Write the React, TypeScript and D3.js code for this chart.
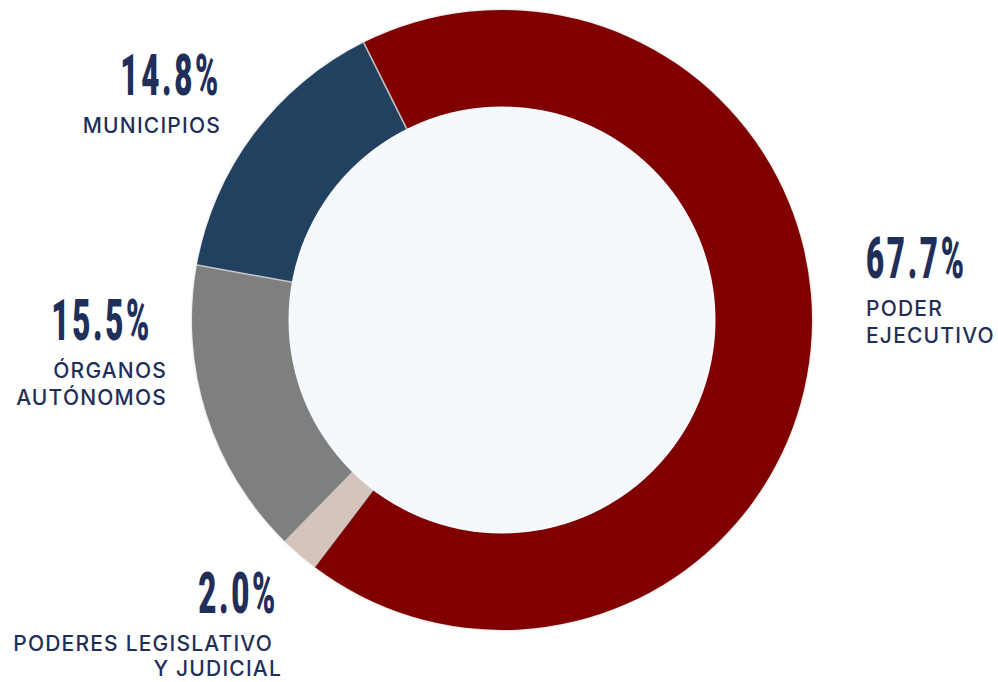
import * as d3 from "d3";

const categories = ["PODER EJECUTIVO", "PODERES LEGISLATIVO Y JUDICIAL", "ÓRGANOS AUTÓNOMOS", "MUNICIPIOS"];
const shares = [67.7, 2.0, 15.5, 14.8];
const labelLines = [["PODER", "EJECUTIVO"], ["PODERES LEGISLATIVO", "Y JUDICIAL"], ["ÓRGANOS", "AUTÓNOMOS"], ["MUNICIPIOS"]];
const colors = ["#800000", "#d5c4bb", "#7f7f7f", "#243f5f"];

// label placement (anchor x, baseline y of the percent, alignment)
const labelLayout = [
  {x: 866, y: 278, anchor: "start", lx: 866, gap: 27},
  {x: 278, y: 613, anchor: "end", lx: 273, lx2: 282, gap: 25},
  {x: 152, y: 340, anchor: "end", lx: 167, gap: 27},
  {x: 221, y: 95, anchor: "end", lx: 221, gap: 27},
];

const width = 998, height = 682;
const cx = 502, cy = 320;
const outerR = 310, innerR = 213;
const navy = "#1f2f5a";

export default function App() {
  const pie = d3.pie<number>()
    .sort(null)
    .startAngle(-26.5 * Math.PI / 180)
    .endAngle((360 - 26.5) * Math.PI / 180);
  const arcs = pie(shares);
  const arc = d3.arc<d3.PieArcDatum<number>>().innerRadius(innerR).outerRadius(outerR);

  return (
    <svg width={width} height={height} style={{position: "absolute", left: 0, top: 0}}>
      <defs>
        <filter id="sh" x="-10%" y="-10%" width="120%" height="120%">
          <feDropShadow dx="0" dy="0" stdDeviation="1.2" floodColor="#000" floodOpacity="0.25"/>
        </filter>
      </defs>
      <rect width={width} height={height} fill="#fff"/>
      <g transform={`translate(${cx},${cy})`}>
        <g filter="url(#sh)">
          {arcs.map((a, i) => (
            <path key={i} d={arc(a) || ""} fill={colors[i]}/>
          ))}
        </g>
        {arcs.map((a, i) => {
          const s = Math.sin(a.startAngle), c = -Math.cos(a.startAngle);
          return <line key={"s" + i} x1={s * innerR} y1={c * innerR} x2={s * outerR} y2={c * outerR}
                       stroke="#c8c8c8" strokeWidth={1.5}/>;
        })}
        <circle r={innerR + 0.5} fill="#f5f9fd"/>
      </g>
      {arcs.map((a, i) => {
        const L = labelLayout[i];
        const lines = labelLines[i];
        return (
          <g key={"l" + i} fill={navy}>
            <text transform={`translate(${L.x},${L.y}) scale(0.54,1)`} textAnchor={L.anchor}
                  fontFamily="Roboto" fontWeight={900} fontSize={58} letterSpacing={5}>
              {shares[i].toFixed(1)}%
            </text>
            {lines.map((t, j) => (
              <text key={j} x={j === 1 && L.lx2 ? L.lx2 : L.lx} y={L.y + 38 + j * L.gap}
                    textAnchor={L.anchor} fontFamily="Inter" fontWeight={500}
                    fontSize={21} letterSpacing={1.2}>
                {t}
              </text>
            ))}
          </g>
        );
      })}
    </svg>
  );
}
